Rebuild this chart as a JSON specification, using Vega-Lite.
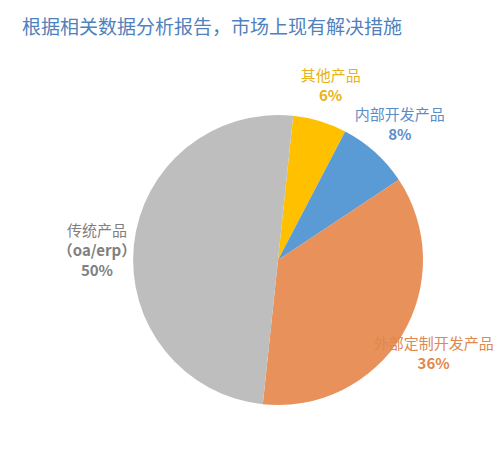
{
  "$schema": "https://vega.github.io/schema/vega-lite/v6.json",
  "width": 444,
  "height": 426,
  "autosize": {"type": "none"},
  "padding": {"left": 56, "top": 47, "right": 0, "bottom": 0},
  "background": "white",
  "title": {
    "text": "根据相关数据分析报告，市场上现有解决措施",
    "anchor": "start",
    "frame": "group",
    "dx": -34,
    "dy": 18,
    "offset": 8,
    "baseline": "bottom",
    "font": "Noto Sans CJK SC",
    "fontSize": 19,
    "fontWeight": "normal",
    "color": "#4F81BD"
  },
  "data": {
    "values": [
      {"idx": 1, "name": "其他产品", "pct": 6, "label": "6%"},
      {"idx": 2, "name": "内部开发产品", "pct": 8, "label": "8%"},
      {"idx": 3, "name": "外部定制开发产品", "pct": 36, "label": "36%"},
      {"idx": 4, "name": "传统产品", "pct": 50, "label": "（oa/erp）\n50%"}
    ]
  },
  "encoding": {
    "theta": {
      "field": "pct",
      "type": "quantitative",
      "stack": true,
      "scale": {"range": [0.105, 6.388]}
    },
    "order": {"field": "idx", "type": "quantitative"}
  },
  "layer": [
    {
      "mark": {"type": "arc", "radius": 145},
      "encoding": {
        "color": {
          "field": "idx",
          "type": "nominal",
          "scale": {
            "domain": [1, 2, 3, 4],
            "range": ["#FFC000", "#5B9BD5", "#E8915A", "#BEBEBE"]
          },
          "legend": null
        }
      }
    },
    {
      "mark": {
        "type": "text",
        "radius": 182,
        "baseline": "bottom",
        "dy": -2,
        "font": "Noto Sans CJK SC",
        "fontSize": 15
      },
      "encoding": {
        "text": {"field": "name"},
        "color": {
          "field": "idx",
          "type": "nominal",
          "scale": {
            "domain": [1, 2, 3, 4],
            "range": ["#E8B21A", "#5B8DC8", "#E0884E", "#7F7F7F"]
          },
          "legend": null
        }
      }
    },
    {
      "mark": {
        "type": "text",
        "radius": 182,
        "baseline": "top",
        "lineBreak": "\n",
        "lineHeight": 20,
        "dy": 3,
        "font": "Noto Sans CJK SC",
        "fontSize": 15,
        "fontWeight": "bold"
      },
      "encoding": {
        "text": {"field": "label"},
        "color": {
          "field": "idx",
          "type": "nominal",
          "scale": {
            "domain": [1, 2, 3, 4],
            "range": ["#E8B21A", "#5B8DC8", "#E0884E", "#7F7F7F"]
          },
          "legend": null
        }
      }
    }
  ],
  "resolve": {"scale": {"color": "independent"}},
  "config": {"view": {"stroke": null}}
}
